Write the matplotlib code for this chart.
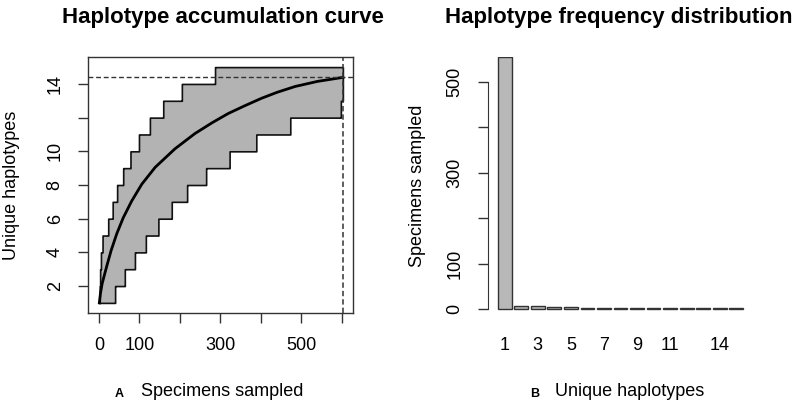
import matplotlib
matplotlib.use("Agg")
import matplotlib.pyplot as plt
import numpy as np

plt.rcParams['font.family'] = ['Liberation Sans', 'DejaVu Sans']

# %% ----------- data ------------------------------------
n_specimens = 603
# specimen count at which the upper / lower bound reaches 1, 2, 3, ... haplotypes
upper_x = [1, 2, 3, 5, 9, 23, 34, 45, 60, 78, 99, 126, 159, 205, 287]
lower_x = [1, 40, 64, 89, 116, 147, 180, 218, 265, 323, 389, 473, 598]
# mean accumulation curve
mean_x = [1, 4, 8, 19, 30, 44, 60, 81, 106, 139, 188, 237, 280, 320, 360, 402, 440, 485, 540, 603]
mean_y = [1, 1.6, 2.15, 3.15, 4.1, 5.1, 6.05, 7.05, 8.05, 9.05, 10.15, 11.05, 11.7,
          12.25, 12.7, 13.15, 13.5, 13.85, 14.15, 14.39]

# haplotype frequencies
hap_ids = list(range(1, 16))
hap_counts = [554, 8, 8, 5, 5, 3, 3, 2, 2, 2, 2, 2, 2, 2, 2]
hap_labels = ['1', '', '3', '', '5', '', '7', '', '9', '', '11', '', '', '14', '']

W, H = 795, 405
fig = plt.figure(figsize=(W / 100, H / 100), dpi=100)

def px_axes(l, t, r, b):
    return fig.add_axes([l / W, 1 - b / H, (r - l) / W, (b - t) / H])

def px_text(x, y, s, **kw):
    fig.text(x / W, 1 - y / H, s, ha='center', va='center', **kw)

dark = '#333333'
tick_kw = dict(length=7.5, width=1, color=dark, labelsize=13)

# %% ----------- A: accumulation curve -------------
ax = px_axes(88, 57, 353, 313)
xs = np.arange(1, n_specimens + 1)
hi = np.searchsorted(upper_x, xs, side='right')
lo = np.searchsorted(lower_x, xs, side='right')
ax.fill_between(xs, lo, hi, step='post', facecolor='#b3b3b3', edgecolor='#111111', lw=1.2)
ax.plot(mean_x, mean_y, color='black', lw=2)
ax.axhline(mean_y[-1], color='#333333', lw=1, linestyle=(0, (3.5, 2)))
ax.axvline(n_specimens, color='#333333', lw=1.1, linestyle=(0, (3.5, 2)))

ax.set_xlim(-27, 628)
ax.set_ylim(0.4, 15.6)
ax.set_xticks(range(0, 700, 100))
ax.set_xticklabels(['0', '100', '', '300', '', '500', ''])
ax.set_yticks(range(2, 16, 2))
ax.set_yticklabels(['2', '4', '6', '8', '10', '', '14'])
ax.tick_params(**tick_kw)
ax.tick_params(axis='x', pad=10)
ax.tick_params(axis='y', labelrotation=90, pad=10)
for t in ax.get_yticklabels():
    t.set_va('center')
for s in ax.spines.values():
    s.set_color(dark)
    s.set_linewidth(1)
px_text(223, 17, 'Haplotype accumulation curve', fontsize=16, fontweight='bold')
px_text(12, 185, 'Unique haplotypes', fontsize=13, rotation=90)
px_text(222, 392, 'Specimens sampled', fontsize=13)
px_text(119, 394, 'A', fontsize=9, fontweight='bold')

# %% ----------- B: frequency distribution -------------
bx = px_axes(488, 57, 753, 313)
centers = [0.7 + 1.2 * (i - 1) for i in hap_ids]
bx.bar(centers, hap_counts, width=1, color='#b8b8b8', edgecolor='#333333', lw=1)
bx.set_xlim(-0.512, 18.712)
bx.set_ylim(-8, 555)
bx.set_xticks(centers)
bx.set_xticklabels(hap_labels)
bx.set_yticks(range(0, 600, 100))
bx.set_yticklabels(['0', '100', '', '300', '', '500'])
bx.tick_params(**tick_kw)
bx.tick_params(axis='x', length=0, pad=17.5)
bx.tick_params(axis='y', labelrotation=90, pad=10)
for t in bx.get_yticklabels():
    t.set_va('center')
for k in ['top', 'right', 'bottom']:
    bx.spines[k].set_visible(False)
bx.spines['left'].set_bounds(0, 500)
bx.spines['left'].set_color(dark)
px_text(619, 17, 'Haplotype frequency distribution', fontsize=16, fontweight='bold')
px_text(417, 186, 'Specimens sampled', fontsize=13, rotation=90)
px_text(630, 392, 'Unique haplotypes', fontsize=13)
px_text(535, 394, 'B', fontsize=9, fontweight='bold')

fig.savefig('out.png', dpi=100)
